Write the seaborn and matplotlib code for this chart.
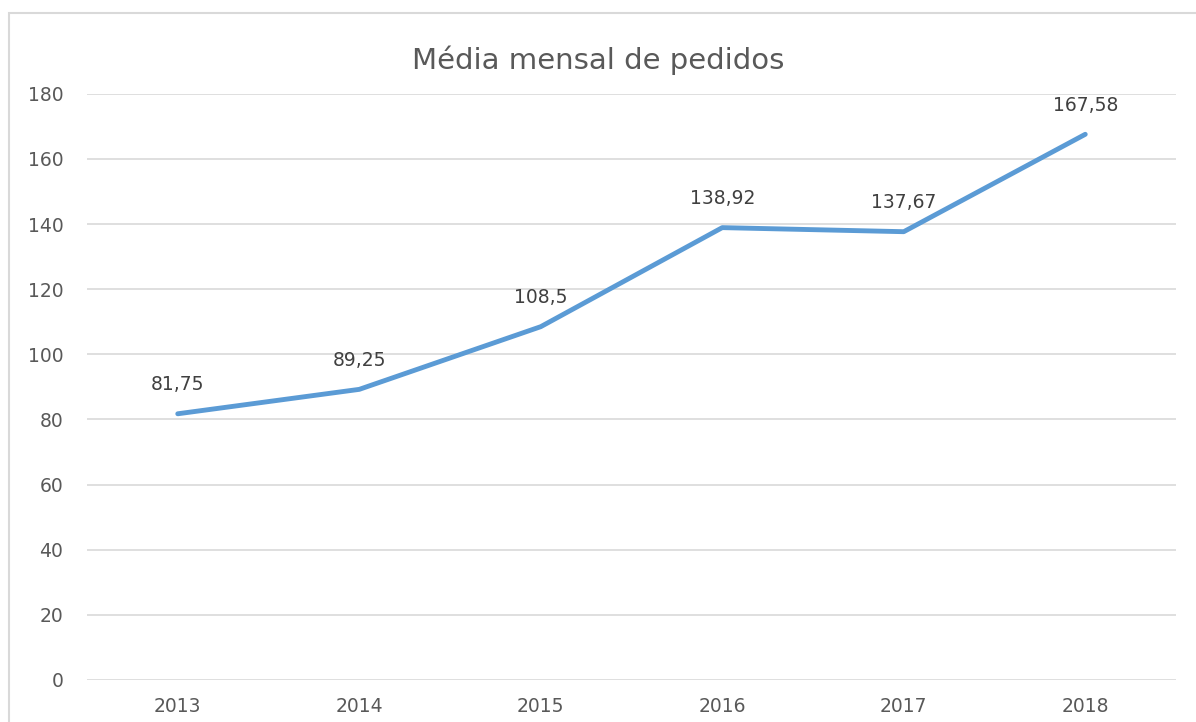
import matplotlib
matplotlib.use("Agg")
import matplotlib.pyplot as plt
import seaborn as sns
import pandas as pd
from matplotlib.patches import Rectangle

years = ["2013", "2014", "2015", "2016", "2017", "2018"]
values = [81.75, 89.25, 108.5, 138.92, 137.67, 167.58]
labels = ["81,75", "89,25", "108,5", "138,92", "137,67", "167,58"]
yticks = [0, 20, 40, 60, 80, 100, 120, 140, 160, 180]
title = "Média mensal de pedidos"

sns.set_theme(style="white")
plt.rcParams['font.family'] = ['DejaVu Sans']

df = pd.DataFrame({"ano": years, "valor": values})

fig = plt.figure(figsize=(11.96, 7.22), dpi=100)
ax = fig.add_axes([87 / 1196, 0.0582, (1176 - 87) / 1196, 0.870 - 0.0582])

sns.lineplot(data=df, x="ano", y="valor", ax=ax, color="#5B9BD5", linewidth=3.5,
             sort=False, solid_capstyle="round")

ax.set_xlim(-0.5, len(years) - 0.5)
ax.set_ylim(0, 180)
ax.set_yticks(yticks)
ax.set_yticklabels([str(t) for t in yticks])
ax.grid(axis="y", color="#d9d9d9", linewidth=1.2)
ax.grid(axis="x", visible=False)
for s in ax.spines.values():
    s.set_visible(False)
ax.tick_params(axis="both", length=0, labelsize=13.5, colors="#595959")
ax.tick_params(axis="y", pad=17)
ax.tick_params(axis="x", pad=12)
ax.set_xlabel("")
ax.set_ylabel("")

for i, (v, lab) in enumerate(zip(values, labels)):
    ax.annotate(lab, (i, v), xytext=(0, 14), textcoords="offset points",
                ha="center", va="bottom", fontsize=13.5, color="#404040")

fig.text(0.5, 1 - 60 / 722, title, ha="center", va="center", fontsize=21, color="#595959")

fig.patches.append(Rectangle((9 / 1196, -0.1), 1.2, 1 - 13 / 722 + 0.1,
                             transform=fig.transFigure, fill=False,
                             edgecolor="#d9d9d9", linewidth=1.5, zorder=0))

fig.savefig("out.png", dpi=100, facecolor="white")
